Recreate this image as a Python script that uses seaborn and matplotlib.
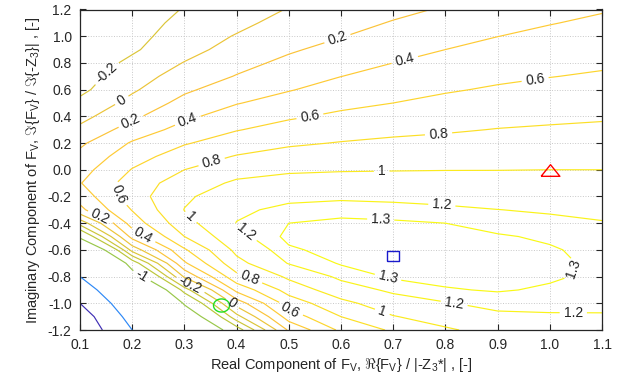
import numpy as np
import matplotlib
matplotlib.use("Agg")
import matplotlib.pyplot as plt
import seaborn as sns
from matplotlib.colors import LinearSegmentedColormap, Normalize
from matplotlib.ticker import FormatStrFormatter

# ---------------- data ----------------
x_values = [0.1, 0.2, 0.3, 0.4, 0.5, 0.6, 0.7, 0.8, 0.9, 1.0, 1.1]
y_values = [1.2, 1.1, 1.0, 0.9, 0.8, 0.7, 0.6, 0.5, 0.4, 0.3, 0.2, 0.1, 0.0,
            -0.1, -0.2, -0.3, -0.4, -0.5, -0.6, -0.7, -0.8, -0.9, -1.0, -1.1, -1.2]

# field values, one list per column (top row y=1.2 ... bottom row y=-1.2)
z_x010 = [-0.385, -0.375, -0.36, -0.34, -0.315, -0.285, -0.245, -0.156, -0.061, 0.043, 0.166, 0.252, 0.325,
          0.39, 0.28, 0.15, -0.32, -0.89, -1.78, -2.89, -4.0, -5.0, -6.0, -7.0, -7.5]
z_x020 = [-0.305, -0.285, -0.26, -0.225, -0.16, -0.093, -0.027, 0.06, 0.16, 0.287, 0.42, 0.515, 0.61,
          0.69, 0.71, 0.61, 0.49, 0.27, -0.12, -0.74, -1.27, -1.95, -2.64, -3.3, -4.0]
z_x030 = [-0.19, -0.15, -0.11, -0.07, 0.008, 0.088, 0.168, 0.26, 0.36, 0.47, 0.583, 0.70, 0.8,
          0.9, 0.97, 1.005, 0.93, 0.8, 0.575, 0.37, 0.03, -0.5, -0.95, -1.35, -1.8]
z_x040 = [-0.10, -0.05, 0.013, 0.077, 0.142, 0.209, 0.30, 0.39, 0.49, 0.59, 0.70, 0.811, 0.926,
          1.03, 1.11, 1.17, 1.205, 1.15, 1.05, 0.939, 0.743, 0.457, 0.086, -0.267, -0.72]
z_x050 = [0.01, 0.07, 0.13, 0.177, 0.243, 0.316, 0.388, 0.479, 0.574, 0.672, 0.772, 0.872, 0.973,
          1.069, 1.16, 1.238, 1.30, 1.33, 1.283, 1.21, 1.038, 0.877, 0.689, 0.495, 0.23]
z_x060 = [0.07, 0.13, 0.193, 0.261, 0.33, 0.398, 0.475, 0.553, 0.635, 0.722, 0.809, 0.898, 0.987,
          1.078, 1.17, 1.268, 1.32, 1.345, 1.34, 1.31, 1.237, 1.112, 0.946, 0.80, 0.64]
z_x070 = [0.15, 0.213, 0.275, 0.338, 0.40, 0.467, 0.533, 0.60, 0.678, 0.757, 0.835, 0.914, 0.992,
          1.077, 1.16, 1.252, 1.315, 1.345, 1.355, 1.345, 1.315, 1.233, 1.1125, 0.99, 0.83]
z_x080 = [0.22, 0.28, 0.34, 0.40, 0.461, 0.521, 0.582, 0.647, 0.713, 0.78, 0.851, 0.924, 0.996,
          1.073, 1.15, 1.226, 1.30, 1.33, 1.35, 1.35, 1.335, 1.29, 1.19, 1.085, 0.975]
z_x090 = [0.29, 0.343, 0.398, 0.453, 0.508, 0.564, 0.621, 0.683, 0.744, 0.806, 0.87, 0.933, 0.997,
          1.065, 1.134, 1.202, 1.262, 1.31, 1.33, 1.34, 1.33, 1.31, 1.241, 1.17, 1.07]
z_x100 = [0.342, 0.392, 0.443, 0.494, 0.544, 0.595, 0.651, 0.707, 0.763, 0.821, 0.881, 0.94, 1.0,
          1.061, 1.122, 1.183, 1.236, 1.285, 1.31, 1.32, 1.315, 1.285, 1.235, 1.185, 1.12]
z_x110 = [0.386, 0.433, 0.479, 0.526, 0.572, 0.621, 0.674, 0.726, 0.779, 0.833, 0.889, 0.944, 1.0,
          1.053, 1.106, 1.159, 1.21, 1.245, 1.27, 1.28, 1.275, 1.255, 1.225, 1.19, 1.14]

contour_levels = [-6, -4, -1, -0.6, -0.4, -0.2, 0, 0.2, 0.4, 0.6, 0.8, 1, 1.2, 1.3]

# special points
triangle_x, triangle_y = [1.0], [0.0]
square_x, square_y = [0.7], [-0.646]
circle_x, circle_y = [0.37], [-1.01]

x_ticks = [0.1, 0.2, 0.3, 0.4, 0.5, 0.6, 0.7, 0.8, 0.9, 1.0, 1.1]
y_ticks = [-1.2, -1.0, -0.8, -0.6, -0.4, -0.2, 0.0, 0.2, 0.4, 0.6, 0.8, 1.0, 1.2]

x_label = r"Real Component of F$_{\rm V}$, $\Re${F$_{\rm V}$} / |-Z$_{\rm 3}$*| , [-]"
y_label = r"Imaginary Component of F$_{\rm V}$, $\Im${F$_{\rm V}$} / $\Im${-Z$_{\rm 3}$}| , [-]"

# where the inline labels sit (data coordinates)
label_spots = [(0.154, 0.71), (0.18, 0.52), (0.198, 0.36), (0.307, 0.36), (0.592, 0.996),
               (0.723, 0.81), (0.541, 0.385), (0.972, 0.672), (0.352, 0.06), (0.787, 0.26),
               (0.678, -0.02), (0.793, -0.277), (0.676, -0.377), (0.688, -0.839),
               (1.055, -0.764), (0.816, -1.026), (1.045, -1.073), (0.678, -1.076),
               (0.413, -0.49), (0.305, -0.385), (0.423, -0.826), (0.503, -1.05),
               (0.169, -0.19), (0.14, -0.345), (0.22, -0.50), (0.218, -0.80),
               (0.31, -0.875), (0.39, -1.01)]

# ---------------- style ----------------
sns.set_style("ticks")
plt.rcParams["font.family"] = ["Liberation Sans", "DejaVu Sans"]
plt.rcParams["mathtext.fontset"] = "custom"
plt.rcParams["mathtext.rm"] = "Liberation Sans"
plt.rcParams["mathtext.it"] = "Liberation Sans:italic"
plt.rcParams["mathtext.fallback"] = "cm"
plt.rcParams["axes.unicode_minus"] = False

parula = LinearSegmentedColormap.from_list("parula", [
    (0.2422, 0.1504, 0.6603), (0.2810, 0.3228, 0.9579), (0.1786, 0.5289, 0.9682),
    (0.0689, 0.6948, 0.8394), (0.2161, 0.7843, 0.5923), (0.6720, 0.7793, 0.2227),
    (0.9970, 0.7659, 0.2199), (0.9769, 0.9839, 0.0805)])

# flattened marker outlines (the reference draws slightly wide symbols)
tri_marker = [(-1, -0.62), (1, -0.62), (0, 0.62), (-1, -0.62)]
sq_marker = [(-1, -0.85), (1, -0.85), (1, 0.85), (-1, 0.85), (-1, -0.85)]
_t = np.linspace(0, 2 * np.pi, 60)
circ_marker = list(zip(np.cos(_t), 0.82 * np.sin(_t)))

X, Y = np.meshgrid(x_values, y_values)
Z = np.column_stack([z_x010, z_x020, z_x030, z_x040, z_x050, z_x060,
                     z_x070, z_x080, z_x090, z_x100, z_x110])

fig = plt.figure(figsize=(6.28, 3.78), dpi=100)
ax = fig.add_axes([80 / 628, 1 - 330 / 378, (602 - 80) / 628, (330 - 9.5) / 378])

cs = ax.contour(X, Y, Z, levels=contour_levels, cmap=parula,
                norm=Normalize(vmin=-6.2, vmax=1.35), linewidths=0.85)
ax.clabel(cs, manual=label_spots, inline=True, inline_spacing=4, fontsize=10,
          colors="#222222", fmt=lambda v: f"{v:g}")

ax.plot(triangle_x, triangle_y, linestyle="none", marker=tri_marker, markersize=13.5,
        markerfacecolor="none", markeredgecolor="red", markeredgewidth=1.0)
ax.plot(square_x, square_y, linestyle="none", marker=sq_marker, markersize=8.6,
        markerfacecolor="none", markeredgecolor="#1a1acc", markeredgewidth=1.0)
ax.plot(circle_x, circle_y, linestyle="none", marker=circ_marker, markersize=11.5,
        markerfacecolor="none", markeredgecolor="#22dd22", markeredgewidth=1.0)

ax.set_xlim(0.1, 1.1)
ax.set_ylim(-1.2, 1.2)
ax.set_xticks(x_ticks)
ax.set_yticks(y_ticks)
ax.xaxis.set_major_formatter(FormatStrFormatter("%.1f"))
ax.yaxis.set_major_formatter(FormatStrFormatter("%.1f"))
ax.grid(True, linestyle=":", color="#c8c8c8", linewidth=0.7)
ax.tick_params(direction="in", length=4, width=0.8, top=True, right=True,
               labelsize=10, colors="#262626", pad=6)
for sp in ax.spines.values():
    sp.set_visible(True)
    sp.set_color("#262626")
    sp.set_linewidth(0.9)

ax.set_xlabel(x_label, fontsize=10.5, color="#262626", labelpad=3)
ax.set_ylabel(y_label, fontsize=10.5, color="#262626", labelpad=4)

fig.savefig("out.png", dpi=100)
